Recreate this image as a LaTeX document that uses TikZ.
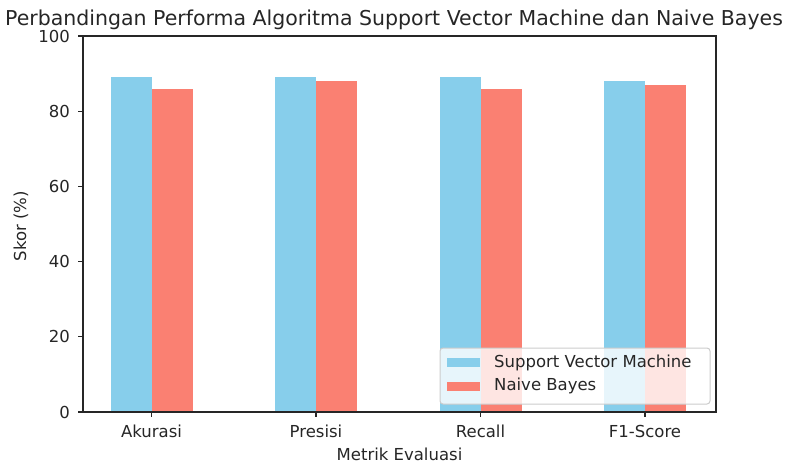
\documentclass[tikz,border=0pt]{standalone}
\usepackage{fontspec}
\setmainfont{DejaVu Sans}
\definecolor{skyb}{RGB}{135,206,235}
\definecolor{salm}{RGB}{250,128,114}
\tikzset{
  svmbar/.style={fill=skyb, draw=none},
  nbbar/.style={fill=salm, draw=none},
  ticklbl/.style={font=\fontsize{16.5}{19}\selectfont, inner sep=0pt, text=black!85},
  spine/.style={draw=black!85, line width=1.2pt},
  tickmark/.style={draw=black!85, line width=1.2pt},
  legbox/.style={draw=black!20, line width=1pt, fill=white, fill opacity=0.8, rounded corners=3pt},
}
\begin{document}
\begin{tikzpicture}[x=1pt,y=-1pt]
\useasboundingbox (0,0) rectangle (787,464);
% bars
\newcommand{\mybars}[3]{%
  \fill[svmbar] ({#1-41},412) rectangle (#1,{412-3.76*#2});
  \fill[nbbar] (#1,412) rectangle ({#1+41},{412-3.76*#3});
}
\mybars{151.5}{89}{86}
\mybars{316}{89}{88}
\mybars{480.5}{89}{86}
\mybars{645}{88}{87}
% legend
\draw[legbox] (440,348) rectangle (710,404);
\fill[svmbar] (447,358) rectangle (480,367);
\fill[nbbar] (447,382) rectangle (480,391);
\node[ticklbl, anchor=base west] (lsvm) at (494,367) {Support Vector Machine};
\node[ticklbl, anchor=base west] (lnb) at (494,390) {Naive Bayes};
% spines
\draw[spine] (83,36) rectangle (716,412);
% y ticks
\foreach \v/\n in {0/t0,20/t20,40/t40,60/t60,80/t80,100/t100}{
  \draw[tickmark] (78,{412-3.76*\v}) -- (83,{412-3.76*\v});
  \node[ticklbl, anchor=east] (\n) at (70,{412-3.76*\v}) {\v};
}
% x ticks
\foreach \x/\l/\n in {151.5/Akurasi/xa,316/Presisi/xp,480.5/Recall/xr,645/F1-Score/xf}{
  \draw[tickmark] (\x,412) -- (\x,417);
  \node[ticklbl, anchor=base] (\n) at (\x,437) {\l};
}
% labels
\node[ticklbl, anchor=base] (xlab) at (399.5,460) {Metrik Evaluasi};
\node[ticklbl, anchor=base, rotate=90] (ylab) at (26,226) {Skor (\%)};
\node[font=\fontsize{20.5}{24}\selectfont, inner sep=0pt, anchor=base, text=black!85] (title) at (394,25) {Perbandingan Performa Algoritma Support Vector Machine dan Naive Bayes};
\end{tikzpicture}
\end{document}
